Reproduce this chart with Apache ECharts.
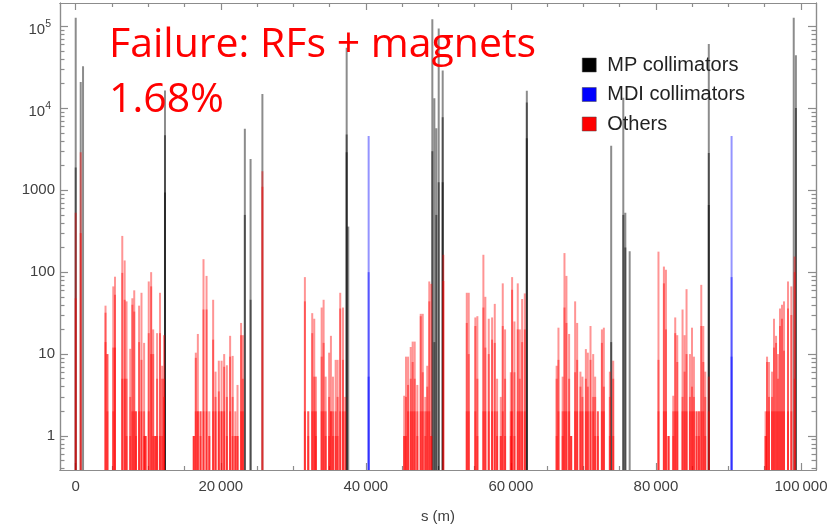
<!DOCTYPE html>
<html>
<head>
<meta charset="utf-8">
<script src="https://cdn.jsdelivr.net/npm/echarts@6/dist/echarts.min.js"></script>
<style>
  html, body { margin: 0; padding: 0; background: #fff; }
  #chart { width: 833px; height: 527px; }
</style>
</head>
<body>
<div id="chart"></div>
<script>
// bin positions s (m) and overlapping layer heights (events)
const mpS = [0, 690, 1010, 12310, 23320, 24110, 25740, 37360, 37580, 49170, 49450, 49720, 50050, 50600, 62200, 73830, 75500, 75780, 76380, 87290, 99000, 99300];
const mpA = [128000, 21000, 32700, 16500, 5640, 2400, 15000, 55000, 360, 122000, 13300, 5700, 94000, 29000, 16400, 3500, 13500, 530, 180, 61000, 128000, 44500];
const mpB = [1900, 0, 0, 4700, 500, 46, 0, 4800, 0, 3000, 14, 500, 1250, 7800, 11800, 14, 500, 200, 0, 2850, 0, 10100];
const mpC = [0, 0, 0, 940, 0, 0, 0, 2900, 0, 0, 0, 0, 0, 1250, 4300, 0, 0, 0, 0, 660, 0, 0];

const mdiS = [40390, 90430];
const mdiA = [4600, 4600];
const mdiB = [100, 87];
const mdiC = [5.3, 9.3];

const othS = [
  0, 690,
  4110, 4370, 5180, 5420, 6420, 6750, 7010, 7520, 7810, 8070, 8310, 8740, 9070, 9430, 9630, 10070, 10400, 10680, 10970, 11220, 11620, 11920, 12170,
  16280, 16560, 16840, 17210, 17620, 18040, 18420, 18950, 19280, 19730, 20110, 20470, 20840, 21290, 21640, 22010, 22310, 22800, 23050,
  25740,
  31600, 32060, 32610, 32890, 33120, 33910, 34180, 34460, 34940, 35190, 35470, 35840, 36110, 36470, 36850, 37160,
  45290, 45540, 45820, 46190, 46460, 46740, 47100, 47570, 47850, 48200, 48470, 48750, 49020, 50690,
  53920, 54190, 55100, 55380, 56210, 56480, 56950, 57410, 57780, 58100, 58610, 58880, 59200, 59990, 60170, 60490, 60950, 61230, 61550, 61920,
  66310, 66560, 67140, 67390, 67660, 68030, 68310, 68860, 69140, 69590, 69870, 70340, 70610, 70980, 71350, 71620, 71990, 72550, 72820, 73650, 74110,
  80350, 81100, 81380, 81740, 82390, 82660, 82940, 83670, 83950, 84220, 84690, 84970, 85240, 85600, 85930, 86250, 86530, 86800, 87290,
  95120, 95320, 95590, 96010, 96280, 96560, 96830, 97110, 97380, 97660, 98210, 98670, 99130
];
const othA = [
  530, 2900,
  39, 10, 67, 88, 277, 139, 44, 11.6, 48, 60, 2, 39, 56, 13.7, 1, 77, 100, 20, 1, 18, 56, 7.2, 17,
  1, 10.4, 17.6, 2, 144, 90, 2, 46, 6.1, 8.3, 8.3, 10, 7.3, 16.7, 9.5, 2, 4.2, 24, 17,
  1700,
  87, 2, 31.6, 27, 5.3, 37, 46, 5.3, 10.4, 16.7, 5.3, 8.5, 8.5, 56, 37, 3,
  3.1, 9.3, 9.3, 12.2, 14.2, 14.2, 4.2, 31, 31, 3, 7.2, 77, 72, 163,
  56, 56, 28, 29, 163, 50, 27, 28, 41, 5, 3, 73, 20, 6, 87, 25, 73, 20, 47, 55,
  7.2, 21, 5.3, 171, 90, 17.6, 1, 44, 24, 6.1, 5.3, 11.5, 10.4, 22, 10, 5.3, 2, 20, 21, 6.1, 8.3,
  178, 117, 107, 1, 3.1, 28, 17, 35, 17, 62, 10, 21, 9.3, 2, 2, 70, 22, 6.1, 5.3,
  2, 9.3, 8, 6.1, 27, 16.7, 10, 36, 40, 44, 77, 67, 155
];
const othB = [
  48, 300,
  32, 10, 12, 53, 98, 46, 5, 3, 40, 33, 2, 14, 8.5, 2, 1, 18, 67, 10, 1, 5, 18, 5, 5,
  1, 9, 2, 2, 35, 35, 1, 15, 3, 3.5, 2, 7, 3, 9.3, 3, 1, 1, 17, 5,
  1100,
  44, 2, 18, 5.3, 2, 9.3, 13.7, 2, 3, 2, 2, 2, 3, 36, 8.5, 2,
  1, 3, 4.2, 5, 8, 5, 2, 29, 6, 2, 4, 44, 1, 78,
  24, 10, 22, 5, 37, 12, 10, 15, 13.7, 2, 1, 22, 5, 2, 61, 6, 20, 5, 14, 20,
  5, 8.5, 2, 37, 24, 5, 1, 6, 8.5, 4, 3, 5, 4, 8.5, 3, 3, 2, 13.7, 4, 3, 5,
  8.5, 73, 20, 1, 2, 18, 8, 3, 6.1, 10, 3, 4, 3, 2, 2, 22, 8, 3, 2,
  1, 8, 3, 3, 12, 13.7, 5, 22, 27, 11, 36, 30, 100
];
const othC = [
  0, 0,
  14, 2, 2, 12, 5, 5, 1, 1, 2, 2, 1, 2, 2, 1, 1, 2, 10, 1, 1, 1, 1, 1, 3,
  1, 2, 2, 1, 2, 2, 1, 2, 2, 2, 2, 2, 1, 2, 1, 1, 1, 2, 2,
  0,
  2, 1, 2, 2, 1, 2, 2, 1, 1, 2, 1, 1, 1, 2, 2, 0,
  1, 1, 2, 2, 2, 2, 1, 2, 2, 1, 2, 2, 1, 0,
  2, 2, 2, 1, 2, 2, 2, 2, 2, 1, 1, 2, 1, 1, 2, 1, 2, 2, 2, 2,
  1, 2, 1, 2, 2, 2, 1, 2, 2, 2, 2, 2, 2, 2, 2, 1, 1, 2, 2, 1, 1,
  2, 2, 2, 1, 1, 2, 2, 2, 2, 2, 2, 2, 2, 1, 1, 2, 2, 1, 0,
  1, 2, 2, 2, 2, 2, 2, 2, 2, 2, 2, 2, 5
];

const xMajor = [0, 20000, 40000, 60000, 80000, 100000];
const xLabels = ['0', '20\u2009000', '40\u2009000', '60\u2009000', '80\u2009000', '100\u2009000'];
const xMinor = [5000, 10000, 15000, 25000, 30000, 35000, 45000, 50000, 55000, 65000, 70000, 75000, 85000, 90000, 95000];
const yMajor = [1, 10, 100, 1000, 10000, 100000];
const yLabels = ['1', '10', '100', '1000', '{b|10}{sup|4}', '{b|10}{sup|5}'];
const yMinor = [];
[0.1, 1, 10, 100, 1000, 10000].forEach(d => {
  for (let k = 2; k <= 9; k++) yMinor.push(+(d * k).toPrecision(3));
});

const BIN = 300;
const X_MIN = -2166, X_MAX = 102070;
const Y_MIN = 0.3844, Y_MAX = 193100;

function renderBar(params, api) {
  const s = api.value(0);
  const v = api.value(1);
  const p = api.coord([s, v]);
  const l = api.coord([s - BIN / 2, v])[0];
  const r = api.coord([s + BIN / 2, v])[0];
  const w = (r - l) * 0.92;
  const cs = params.coordSys;
  const bottom = cs.y + cs.height;
  return {
    type: 'rect',
    shape: { x: p[0] - w / 2, y: p[1], width: w, height: bottom - p[1] },
    style: { fill: api.visual('color') }
  };
}

function layer(name, xs, vals, color) {
  return {
    type: 'custom',
    name: name,
    renderItem: renderBar,
    encode: { x: 0, y: 1 },
    data: xs.map((x, i) => [x, vals[i]]).filter(d => d[1] > 0),
    itemStyle: { color: color },
    silent: true,
    clip: true,
    animation: false
  };
}

const GREY = 'rgba(0,0,0,0.45)';
const BLUE = 'rgba(0,0,255,0.42)';
const RED = 'rgba(255,0,0,0.42)';
const TICK = '#8c8c8c';
const frame = { show: true, onZero: false, lineStyle: { color: TICK, width: 1.2 } };
const labelFont = { fontFamily: 'Liberation Sans', fontSize: 15, color: '#404040' };

function xAx(pos, ticks, len, withLabels) {
  return {
    type: 'value', position: pos, min: X_MIN, max: X_MAX,
    splitLine: { show: false },
    axisLine: frame,
    axisTick: { show: true, inside: true, length: len, customValues: ticks, lineStyle: { color: TICK, width: 1.2 } },
    axisLabel: withLabels ? Object.assign({
      show: true, margin: 9, customValues: xMajor,
      formatter: v => xLabels[xMajor.indexOf(Math.round(v))]
    }, labelFont) : { show: false }
  };
}
function yAx(pos, ticks, len, withLabels) {
  return {
    type: 'log', position: pos, min: Y_MIN, max: Y_MAX,
    splitLine: { show: false },
    axisLine: frame,
    axisTick: { show: true, inside: true, length: len, customValues: ticks, lineStyle: { color: TICK, width: 1.2 } },
    axisLabel: withLabels ? Object.assign({
      show: true, margin: 5, customValues: yMajor,
      formatter: v => yLabels[Math.round(Math.log10(v))],
      rich: {
        b: { fontFamily: 'Liberation Sans', fontSize: 15, color: '#404040', padding: [7, 0, 0, 0] },
        sup: { fontFamily: 'Liberation Sans', fontSize: 10.5, color: '#404040', padding: [0, 4, 5, 0] }
      }
    }, labelFont) : { show: false }
  };
}

const chart = echarts.init(document.getElementById('chart'), null, { renderer: 'canvas' });
const xMain = xAx('bottom', xMajor, 7, true);
xMain.name = 's (m)';
xMain.nameLocation = 'middle';
xMain.nameGap = 39;
xMain.nameTextStyle = labelFont;
const yMain = yAx('left', yMajor, 8, true);
yMain.name = 'Events';
yMain.nameLocation = 'middle';
yMain.nameGap = 60;
yMain.nameTextStyle = labelFont;

chart.setOption({
  backgroundColor: '#fff',
  animation: false,
  grid: { left: 60, right: 17, top: 3, bottom: 57, containLabel: false, outerBoundsMode: 'none' },
  title: {
    text: 'Failure: RFs + magnets\n1.68%',
    left: 104, top: 13,
    textStyle: { fontFamily: 'Open Sans', fontSize: 41, fontWeight: 'normal', color: '#ff0000', lineHeight: 55 }
  },
  legend: {
    orient: 'vertical', left: 582, top: 55, padding: 0,
    icon: 'rect', itemWidth: 14, itemHeight: 14, itemGap: 9.5,
    textStyle: { fontFamily: 'Liberation Sans', fontSize: 20, color: '#222', lineHeight: 20, padding: [0, 0, 0, 6] },
    data: [
      { name: 'MP collimators', itemStyle: { color: '#000', borderColor: '#444', borderWidth: 0.5 } },
      { name: 'MDI collimators', itemStyle: { color: '#0000ff', borderColor: '#444', borderWidth: 0.5 } },
      { name: 'Others', itemStyle: { color: '#ff0000', borderColor: '#444', borderWidth: 0.5 } }
    ]
  },
  xAxis: [
    xMain,
    xAx('bottom', xMinor, 4, false),
    xAx('top', xMajor, 7, false),
    xAx('top', xMinor, 4, false)
  ],
  yAxis: [
    yMain,
    yAx('left', yMinor, 4.5, false),
    yAx('right', yMajor, 8, false),
    yAx('right', yMinor, 4.5, false)
  ],
  series: [
    layer('MP collimators', mpS, mpA, GREY),
    layer('MP collimators', mpS, mpB, GREY),
    layer('MP collimators', mpS, mpC, GREY),
    layer('MDI collimators', mdiS, mdiA, BLUE),
    layer('MDI collimators', mdiS, mdiB, BLUE),
    layer('MDI collimators', mdiS, mdiC, BLUE),
    layer('Others', othS, othA, RED),
    layer('Others', othS, othB, RED),
    layer('Others', othS, othC, RED)
  ]
});
</script>
</body>
</html>
